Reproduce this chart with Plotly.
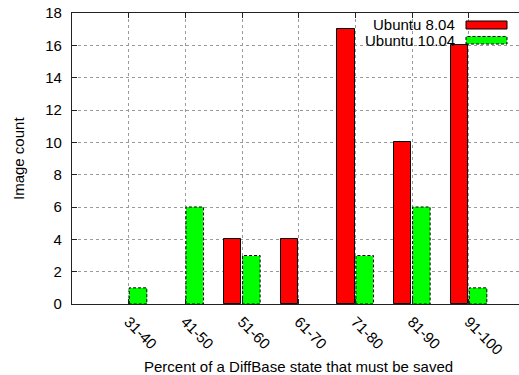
import plotly.graph_objects as go

# Histogram of DiffBase state size per image, two Ubuntu releases
bins = ["31-40", "41-50", "51-60", "61-70", "71-80", "81-90", "91-100"]
ubuntu_804 = [0, 0, 4, 4, 17, 10, 16]
ubuntu_1004 = [1, 6, 3, 0, 3, 6, 1]
y_ticks = [0, 2, 4, 6, 8, 10, 12, 14, 16, 18]

W, H = 519, 375
ML, MT, MB, MR = 72, 13, 71, 0
PW, PH = W - ML - MR, H - MT - MB

RED = "#ff0000"
GREEN = "#00ff00"
FONT = "Liberation Sans, Arial, sans-serif"
FS = 15
BW = 0.31      # bar width in category units
OFF = 0.165    # offset of each bar from its category tick

idx = list(range(len(bins)))


def px(x):
    return (x - ML) / PW


def py(y):
    return (MT + PH - y) / PH


def drop_zero(vals):
    # empty bins get no bar at all
    return [v if v > 0 else None for v in vals]


fig = go.Figure()

fig.add_trace(go.Bar(
    x=[i - OFF for i in idx], y=drop_zero(ubuntu_804), width=BW,
    marker=dict(color=RED, line=dict(color="black", width=1)),
    name="Ubuntu 8.04", showlegend=False,
))
fig.add_trace(go.Bar(
    x=[i + OFF for i in idx], y=drop_zero(ubuntu_1004), width=BW,
    marker=dict(color=GREEN, line=dict(width=0)),
    name="Ubuntu 10.04", showlegend=False,
))

# dashed outline around the green bars
ox, oy = [], []
for i, v in zip(idx, ubuntu_1004):
    if v <= 0:
        continue
    x0, x1 = i + OFF - BW / 2, i + OFF + BW / 2
    ox += [x0, x0, x1, x1, x0, None]
    oy += [0, v, v, 0, 0, None]
fig.add_trace(go.Scatter(
    x=ox, y=oy, mode="lines",
    line=dict(color="black", width=1, dash="3px,2px"),
    hoverinfo="skip", showlegend=False,
))

shapes = []
annotations = []

# key box (opaque, hides grid behind it)
shapes.append(dict(type="rect", xref="paper", yref="paper", layer="between",
                   x0=px(353), x1=px(512), y0=py(46), y1=py(14),
                   fillcolor="white", line=dict(width=0)))
# key samples
shapes.append(dict(type="rect", xref="paper", yref="paper", layer="above",
                   x0=px(466), x1=px(507), y0=py(29), y1=py(21),
                   fillcolor=RED, line=dict(color="black", width=1)))
shapes.append(dict(type="rect", xref="paper", yref="paper", layer="above",
                   x0=px(466), x1=px(507), y0=py(44), y1=py(36.5),
                   fillcolor=GREEN, line=dict(color="black", width=1, dash="3px,2px")))
for label, yc in (("Ubuntu 8.04", 25), ("Ubuntu 10.04", 40.5)):
    annotations.append(dict(text=label, xref="paper", yref="paper",
                            x=px(457), y=py(yc), xanchor="right", yanchor="middle",
                            showarrow=False, font=dict(family=FONT, size=FS, color="black")))

# axis titles
annotations.append(dict(text="Percent of a DiffBase state that must be saved",
                        xref="paper", yref="paper", x=px(298), y=py(366),
                        xanchor="center", yanchor="middle", showarrow=False,
                        font=dict(family=FONT, size=FS, color="black")))
annotations.append(dict(text="Image count", xref="paper", yref="paper",
                        x=px(18), y=py(159), xanchor="center", yanchor="middle",
                        textangle=-90, showarrow=False,
                        font=dict(family=FONT, size=FS, color="black")))

fig.update_layout(
    width=W, height=H,
    margin=dict(l=ML, r=MR, t=MT, b=MB, pad=0),
    paper_bgcolor="white", plot_bgcolor="white",
    font=dict(family=FONT, size=FS, color="black"),
    barmode="overlay", bargap=0,
    shapes=shapes, annotations=annotations,
    showlegend=False,
)

fig.update_xaxes(
    range=[-1, -1 + PW / 56.67],
    tickmode="array", tickvals=idx, ticktext=bins, tickangle=45,
    ticks="inside", ticklen=5, tickcolor="#222", tickwidth=1,
    showline=True, linecolor="#222", linewidth=1.3, mirror="ticks",
    showgrid=True, gridcolor="#9a9a9a", gridwidth=1, griddash="dot",
    zeroline=False, ticklabelstandoff=2,
)
fig.update_yaxes(
    range=[0, 18],
    tickmode="array", tickvals=y_ticks,
    ticks="inside", ticklen=5, tickcolor="#222", tickwidth=1,
    showline=True, linecolor="#222", linewidth=1.3, mirror=False,
    showgrid=True, gridcolor="#9a9a9a", gridwidth=1, griddash="dot",
    zeroline=False, ticklabelstandoff=6,
)

fig.write_html("out.html")
